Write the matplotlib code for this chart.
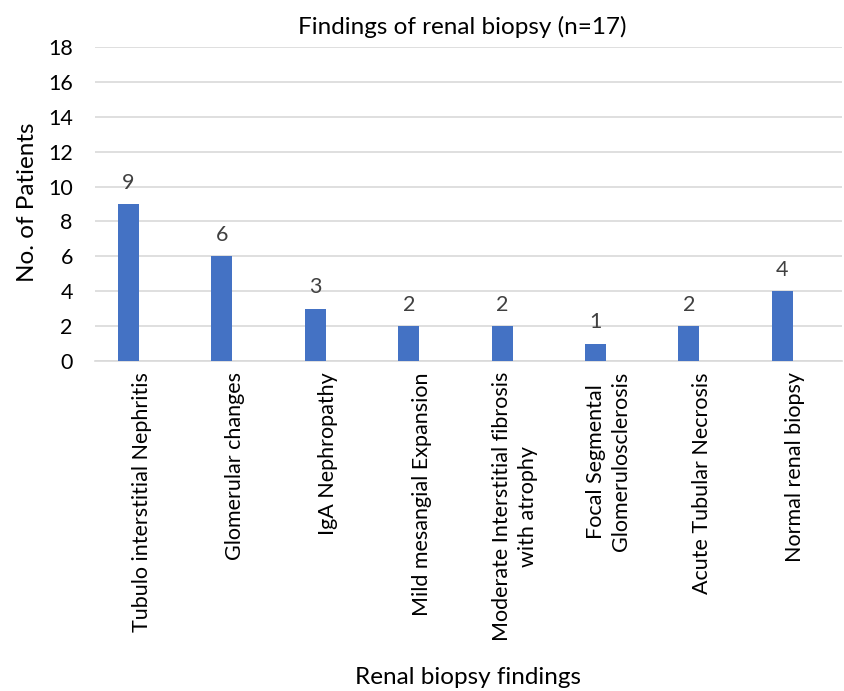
import matplotlib
matplotlib.use("Agg")
import matplotlib.pyplot as plt

categories = ["Tubulo interstitial Nephritis", "Glomerular changes", "IgA Nephropathy",
              "Mild mesangial Expansion", "Moderate Interstitial fibrosis\nwith atrophy",
              "Focal Segmental\nGlomerulosclerosis", "Acute Tubular Necrosis", "Normal renal biopsy"]
values = [9, 6, 3, 2, 2, 1, 2, 4]
yticks = [0, 2, 4, 6, 8, 10, 12, 14, 16, 18]

plt.rcParams['font.family'] = ['Lato', 'DejaVu Sans']

W, H = 845, 691
fig = plt.figure(figsize=(W/100, H/100), dpi=100)
ax = fig.add_axes([95/W, 1-361/H, (842-95)/W, (361-47)/H])

x = list(range(len(categories)))
offset = -0.14
bx = [i + offset for i in x]
ax.bar(bx, values, width=0.225, color="#4472C4", zorder=3)
for xi, v in zip(bx, values):
    ax.text(xi, v + 0.65, str(v), ha="center", va="bottom", fontsize=15.5, color="#404040")

ax.set_xlim(-0.5, len(categories) - 0.5)
ax.set_ylim(0, 18)
ax.set_yticks(yticks)
ax.set_yticklabels([str(t) for t in yticks], fontsize=15.5)
ax.set_xticks(x)
ax.set_xticklabels(categories, rotation=90, fontsize=15.5, va="top", ha="center", linespacing=1.35)
ax.tick_params(axis="both", length=0, pad=8)
ax.tick_params(axis="y", pad=16)
ax.grid(axis="y", color="#D9D9D9", linewidth=1.2, zorder=0)
for s in ["top", "right", "left"]:
    ax.spines[s].set_visible(False)
ax.spines["bottom"].set_color("#D9D9D9")
ax.spines["bottom"].set_linewidth(1.2)

fig.text(462/W, 1-27/H, "Findings of renal biopsy (n=17)", ha="center", va="center", fontsize=17.5)
fig.text(468/W, 1-678/H, "Renal biopsy findings", ha="center", va="center", fontsize=17.5)
fig.text(28/W, 1-202/H, "No. of Patients", ha="center", va="center", fontsize=17.5, rotation=90)

fig.savefig("out.png", dpi=100, facecolor="white")
